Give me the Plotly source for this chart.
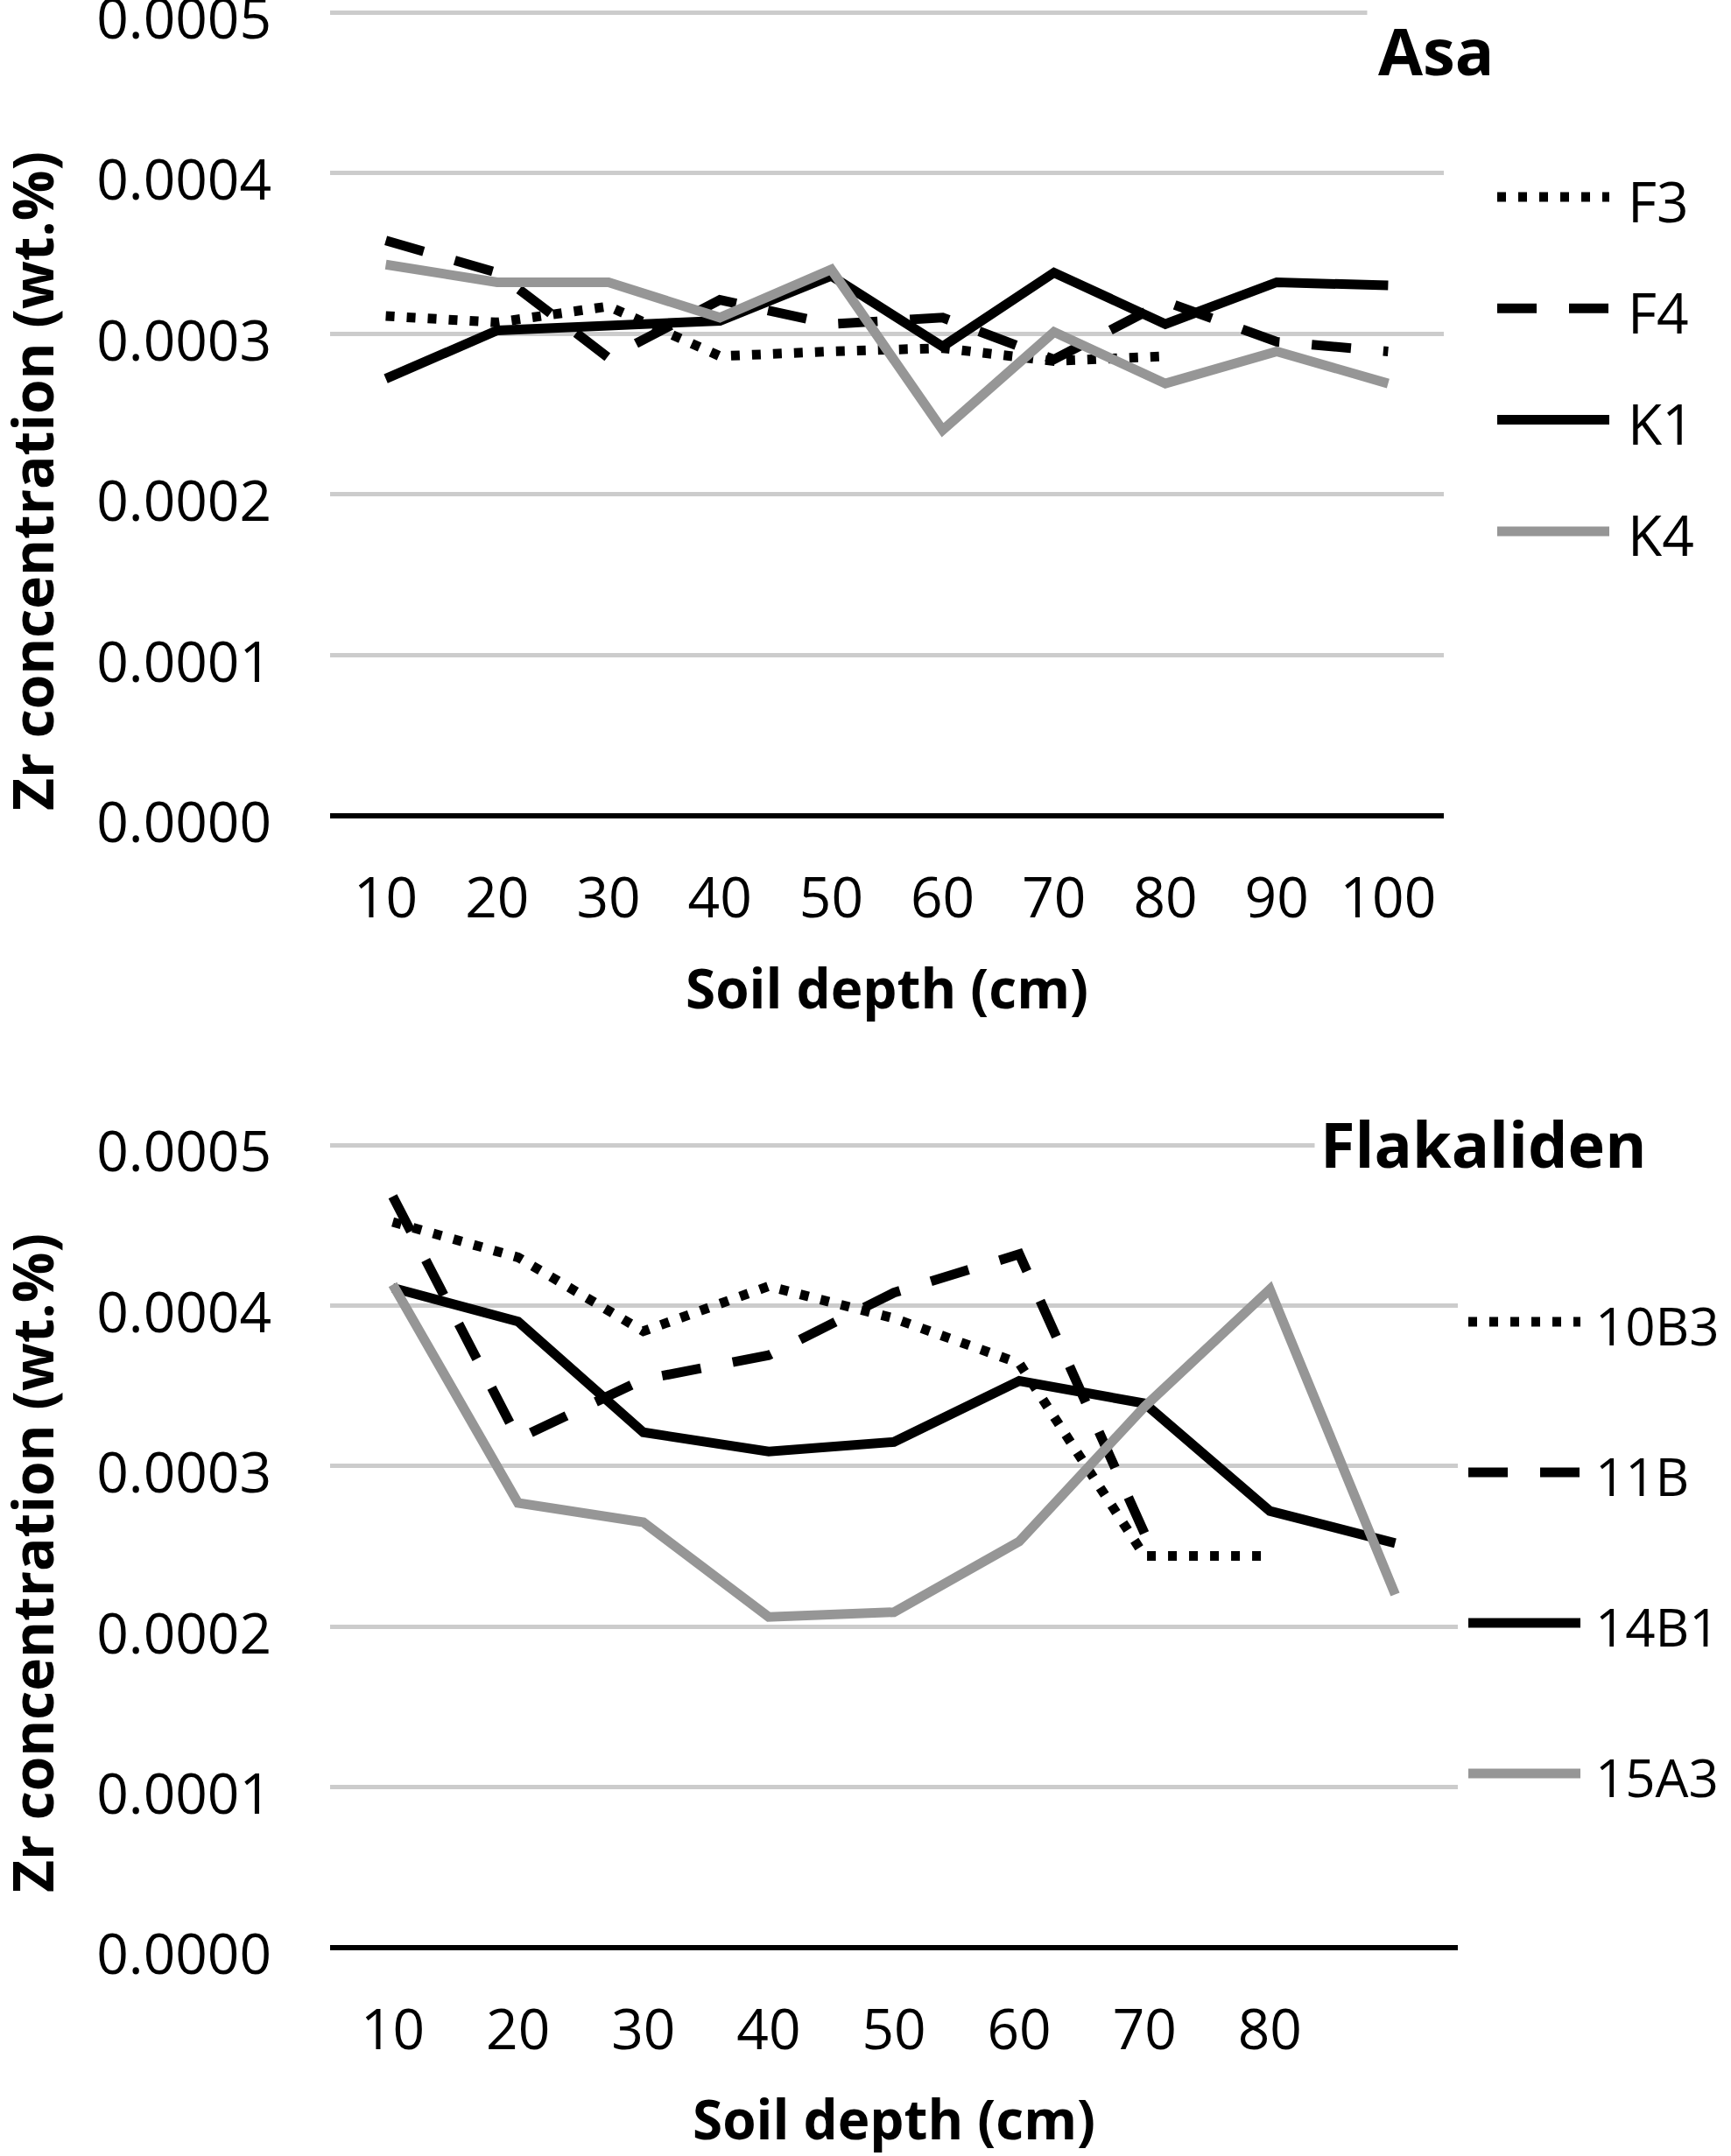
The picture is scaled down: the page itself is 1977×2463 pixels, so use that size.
import plotly.graph_objects as go

# ---------------- data ----------------
asa_depth = [10, 20, 30, 40, 50, 60, 70, 80, 90, 100]
asa_F3 = [0.000311, 0.000307, 0.000317, 0.000286, 0.000289, 0.000291, 0.000283, 0.000286]
asa_F4 = [0.000358, 0.000338, 0.000285, 0.000321, 0.000306, 0.000310, 0.000284, 0.000320, 0.000295, 0.000289]
asa_K1 = [0.000272, 0.000302, 0.000305, 0.000308, 0.000336, 0.000292, 0.000338, 0.000306, 0.000332, 0.000330]
asa_K4 = [0.000343, 0.000332, 0.000332, 0.000310, 0.000340, 0.000240, 0.000301, 0.000269, 0.000289, 0.000269]

fla_depth = [10, 20, 30, 40, 50, 60, 70, 80, 90]
fla_tick_labels = ["10", "20", "30", "40", "50", "60", "70", "80"]
fla_10B3 = [0.000452, 0.000430, 0.000384, 0.000412, 0.000392, 0.000364, 0.000244, 0.000244]
fla_11B = [0.000468, 0.000317, 0.000354, 0.000369, 0.000408, 0.000432, 0.000258]
fla_14B1 = [0.000411, 0.000390, 0.000321, 0.000309, 0.000315, 0.000353, 0.000339, 0.000272, 0.000252]
fla_15A3 = [0.000413, 0.000277, 0.000265, 0.000206, 0.000209, 0.000253, 0.000337, 0.000410, 0.000220]

y_ticks = [0, 0.0001, 0.0002, 0.0003, 0.0004, 0.0005]

asa_names = ["F3", "F4", "K1", "K4"]
fla_names = ["10B3", "11B", "14B1", "15A3"]

# ---------------- styles / layout ----------------
W, H = 1977, 2463
OFF = 0  # page body margin is removed below (post_script)
BLACK = "#000000"
GRAY = "#969696"
GRID = "#cccccc"
DOT = "10px,14px"
DASH = "45px,37px"
styles = [(BLACK, DOT), (BLACK, DASH), (BLACK, "solid"), (GRAY, "solid")]
LW = 11
FONT = "Open Sans"


def px_x(v):
    return (v - OFF) / W


def px_y(v):
    return 1 - (v - OFF) / H


fig = go.Figure()

asa_series = [asa_F3, asa_F4, asa_K1, asa_K4]
for name, vals, (col, dash) in zip(asa_names, asa_series, styles):
    fig.add_trace(go.Scatter(
        x=asa_depth[:len(vals)], y=vals, name=name, mode="lines",
        line=dict(color=col, width=LW, dash=dash),
        xaxis="x", yaxis="y", showlegend=False))

fla_series = [fla_10B3, fla_11B, fla_14B1, fla_15A3]
for name, vals, (col, dash) in zip(fla_names, fla_series, styles):
    fig.add_trace(go.Scatter(
        x=fla_depth[:len(vals)], y=vals, name=name, mode="lines",
        line=dict(color=col, width=LW, dash=dash),
        xaxis="x2", yaxis="y2", showlegend=False))

tickfont = dict(family=FONT, size=64, color=BLACK)

# plot areas in page pixels: (left, right, y of 0.0005, y of 0)
top_box = (377, 1649, 14, 932)
bot_box = (377, 1665, 1308, 2225)
EXTRA = 3  # px of headroom so the 0.0005 gridline is drawn


def y_axis(box, anchor):
    l, r, ytop, ybot = box
    ymax = y_ticks[-1] * (ybot - ytop + EXTRA) / (ybot - ytop)
    return dict(
        domain=[px_y(ybot), px_y(ytop - EXTRA)], anchor=anchor,
        range=[0, ymax], tickvals=y_ticks, tickformat=".4f",
        showgrid=True, gridcolor=GRID, gridwidth=5,
        zeroline=True, zerolinecolor=BLACK, zerolinewidth=6,
        showline=False, ticks="", tickfont=tickfont, ticklabelstandoff=66,
        ticklabelshift=8, ticklabeloverflow="allow",
        fixedrange=True, automargin=False,
    )


xaxis_common = dict(
    showgrid=False, zeroline=False, showline=False, ticks="",
    tickfont=tickfont, ticklabelstandoff=51, fixedrange=True, automargin=False,
)

fig.update_layout(
    width=W, height=H, autosize=False,
    margin=dict(l=0, r=0, t=0, b=0, pad=0),
    paper_bgcolor="white", plot_bgcolor="white",
    showlegend=False,
    xaxis=dict(domain=[px_x(top_box[0]), px_x(top_box[1])], range=[5, 105],
               tickvals=asa_depth, ticktext=[str(d) for d in asa_depth],
               anchor="y", **xaxis_common),
    yaxis=y_axis(top_box, "x"),
    xaxis2=dict(domain=[px_x(bot_box[0]), px_x(bot_box[1])], range=[5, 95],
                tickvals=fla_depth[:len(fla_tick_labels)], ticktext=fla_tick_labels,
                anchor="y2", **xaxis_common),
    yaxis2=y_axis(bot_box, "x2"),
)

annotations = []
shapes = []

title_font = dict(family=FONT, size=64, color=BLACK, weight="bold")
xtitle_font = dict(family=FONT, size=62, color=BLACK, weight="bold")

# axis titles
for ycen in (550, 1786):
    annotations.append(dict(text="Zr concentration (wt.%)", textangle=-90,
                            x=px_x(36), y=px_y(ycen), xref="paper", yref="paper",
                            xanchor="center", yanchor="middle", showarrow=False,
                            font=title_font))
for xcen, ycen in ((1013, 1128), (1021, 2420)):
    annotations.append(dict(text="Soil depth (cm)", x=px_x(xcen), y=px_y(ycen),
                            xref="paper", yref="paper", xanchor="center",
                            yanchor="middle", showarrow=False, font=xtitle_font))

# panel titles
annotations.append(dict(text="Asa", x=px_x(1640), y=px_y(58), xref="paper", yref="paper",
                        xanchor="center", yanchor="middle", showarrow=False,
                        font=dict(family=FONT, size=74, color=BLACK, weight="bold"),
                        bgcolor="white", borderpad=12))
annotations.append(dict(text="Flakaliden", x=px_x(1694), y=px_y(1306), xref="paper",
                        yref="paper", xanchor="center", yanchor="middle", showarrow=False,
                        font=dict(family=FONT, size=72, color=BLACK, weight="bold"),
                        bgcolor="white", borderpad=6))

# legends (keys drawn next to each panel)
for names, x0, x1, xt, y0, dy, fs in ((asa_names, 1710, 1838, 1857, 225, 127.3, 64),
                                      (fla_names, 1677, 1805, 1820, 1510, 172.0, 60)):
    for i, (name, (col, dash)) in enumerate(zip(names, styles)):
        yy = y0 + i * dy
        shapes.append(dict(type="line", xref="paper", yref="paper",
                           x0=px_x(x0), x1=px_x(x1), y0=px_y(yy), y1=px_y(yy),
                           line=dict(color=col, width=11, dash=dash)))
        annotations.append(dict(text=name, x=px_x(xt), y=px_y(yy + 4), xref="paper",
                                yref="paper", xanchor="left", yanchor="middle",
                                showarrow=False,
                                font=dict(family=FONT, size=fs, color=BLACK)))

fig.update_layout(annotations=annotations, shapes=shapes)

fig.write_html("out.html",
               config={"displayModeBar": False, "staticPlot": True},
               post_script="document.body.style.margin='0px';"
                           "document.body.style.overflow='hidden';")
